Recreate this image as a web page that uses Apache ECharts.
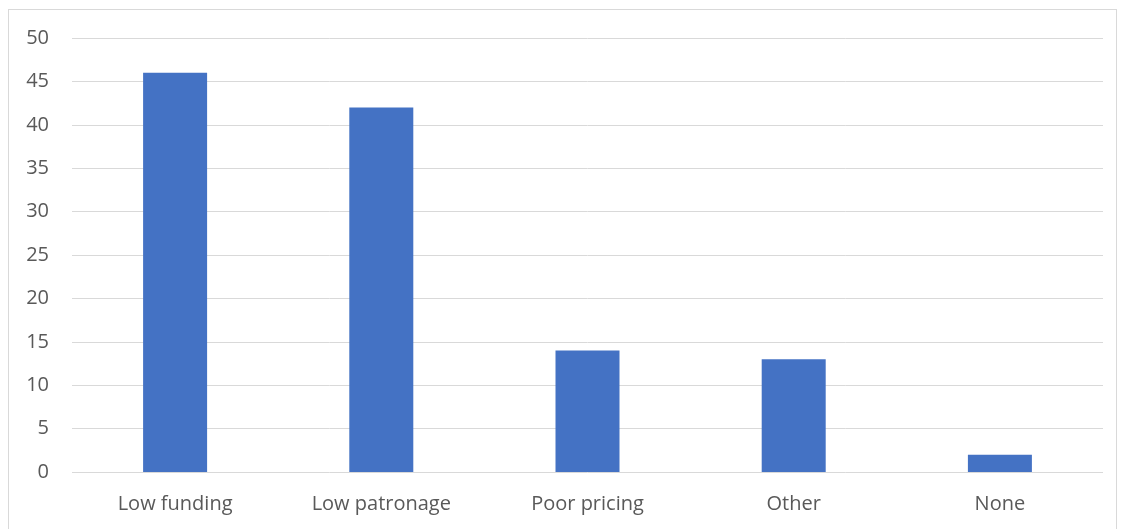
<!DOCTYPE html>
<html>
<head>
<meta charset="utf-8">
<script src="https://cdn.jsdelivr.net/npm/echarts@6/dist/echarts.min.js"></script>
<style>
  html, body { margin: 0; padding: 0; background: #fff; }
  #frame { position: absolute; left: 8px; top: 9px; width: 1109px; height: 530px; border: 1px solid #d9d9d9; box-sizing: border-box; }
  #chart { position: absolute; left: 0; top: 0; width: 1121px; height: 529px; }
</style>
</head>
<body>
<div id="frame"></div>
<div id="chart"></div>
<script>
// Reasons reported, with counts
const categories = ['Low funding', 'Low patronage', 'Poor pricing', 'Other', 'None'];
const counts = [46, 42, 14, 13, 2];

const chart = echarts.init(document.getElementById('chart'), null, { renderer: 'canvas' });
const font = '"Open Sans", "Noto Sans", sans-serif';

chart.setOption({
  animation: false,
  grid: { left: 72, right: 18, top: 38, bottom: 57, containLabel: false },
  xAxis: {
    type: 'category',
    data: categories,
    axisLine: { show: false },
    axisTick: { show: false },
    axisLabel: { color: '#595959', fontSize: 20, fontFamily: font, margin: 22 }
  },
  yAxis: {
    type: 'value',
    min: 0,
    max: 50,
    interval: 5,
    axisLine: { show: false },
    axisTick: { show: false },
    splitLine: { lineStyle: { color: '#d9d9d9', width: 1 } },
    axisLabel: { color: '#595959', fontSize: 20, fontFamily: font, margin: 23 }
  },
  series: [{
    type: 'bar',
    data: counts,
    barWidth: 64,
    itemStyle: { color: '#4472C4' }
  }]
});
</script>
</body>
</html>
